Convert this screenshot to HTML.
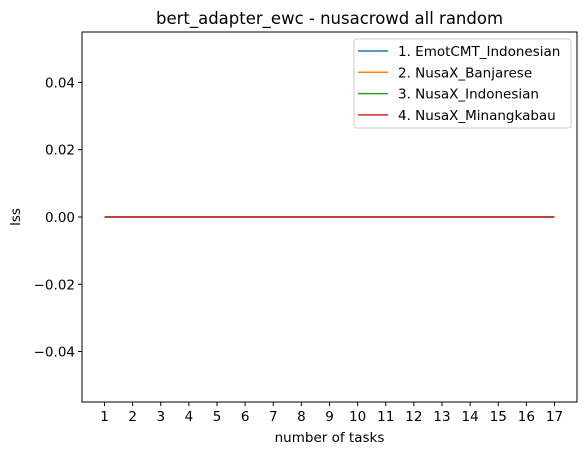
<!DOCTYPE html>
<html><head><meta charset="utf-8"><style>
body{margin:0;background:#fff}
svg text{font-family:"DejaVu Sans","Liberation Sans",sans-serif;fill:#000}
</style></head><body>
<svg id="chart" width="587" height="455" xmlns="http://www.w3.org/2000/svg">
<rect width="587" height="455" fill="#fff"/>
<text x="329.5" y="24" font-size="16.5" text-anchor="middle">bert_adapter_ewc - nusacrowd all random</text>
<g id="plot"></g>
<rect x="82" y="32" width="495" height="370" fill="none" stroke="#000" stroke-width="1"/>
<text x="329.5" y="442" font-size="13.5" text-anchor="middle">number of tasks</text>
<text x="0" y="0" font-size="13.5" text-anchor="middle" transform="translate(20,217) rotate(-90)">lss</text>
<g>
<rect x="354" y="39" width="217" height="89" rx="3" fill="#fff" fill-opacity="0.8" stroke="#ccc"/>
<g id="legend-items"></g>
</g>
</svg>
<script>
const tasks=[1,2,3,4,5,6,7,8,9,10,11,12,13,14,15,16,17];
const seriesNames=["1. EmotCMT_Indonesian","2. NusaX_Banjarese","3. NusaX_Indonesian","4. NusaX_Minangkabau"];
const s1=[0,0,0,0,0,0,0,0,0,0,0,0,0,0,0,0,0];
const s2=[0,0,0,0,0,0,0,0,0,0,0,0,0,0,0,0,0];
const s3=[0,0,0,0,0,0,0,0,0,0,0,0,0,0,0,0,0];
const s4=[0,0,0,0,0,0,0,0,0,0,0,0,0,0,0,0,0];
const yTicks=[-0.04,-0.02,0,0.02,0.04];
const yTickLabels=["−0.04","−0.02","0.00","0.02","0.04"];
const colors=["#1f77b4","#ff7f0e","#2ca02c","#d62728"];
const NS="http://www.w3.org/2000/svg";
const L=82,R=577,T=32,B=402;
const xMin=0.2,xMax=17.8,yMin=-0.055,yMax=0.055;
const xs=v=>L+(v-xMin)/(xMax-xMin)*(R-L);
const ys=v=>B-(v-yMin)/(yMax-yMin)*(B-T);
const plot=document.getElementById('plot');
function mk(t,a){const e=document.createElementNS(NS,t);for(const k in a)e.setAttribute(k,a[k]);return e;}
tasks.forEach(t=>{
 const x=xs(t);
 const tk=mk('line',{x1:x,x2:x,y1:B,y2:B+4,stroke:'#000'});
 
 
 plot.appendChild(tk);
 const lb=mk('text',{x:x,y:B+19,'font-size':13.5,'text-anchor':'middle'});
 lb.textContent=t;
 
 
 plot.appendChild(lb);
});
yTicks.forEach((v,i)=>{
 const y=ys(v);
 const tk=mk('line',{x1:L-4,x2:L,y1:y,y2:y,stroke:'#000'});
 
 
 plot.appendChild(tk);
 const lb=mk('text',{x:L-7,y:y+5,'font-size':13.5,'text-anchor':'end'});
 lb.textContent=yTickLabels[i];
 
 
 plot.appendChild(lb);
});
[s1,s2,s3,s4].forEach((s,i)=>{
 const p=mk('polyline',{points:s.map((v,j)=>xs(tasks[j])+','+ys(v)).join(' '),fill:'none',stroke:colors[i],'stroke-width':1.5});
 
 
 plot.appendChild(p);
});
const leg=document.getElementById('legend-items');
seriesNames.forEach((n,i)=>{
 const y=51+i*21.3;
 const ln=mk('line',{x1:358,x2:388,y1:y,y2:y,stroke:colors[i],'stroke-width':1.5});
 
 
 leg.appendChild(ln);
 const tx=mk('text',{x:398,y:y+5,'font-size':13.5});
 tx.textContent=n;
 
 
 leg.appendChild(tx);
});
</script>
</body></html>
